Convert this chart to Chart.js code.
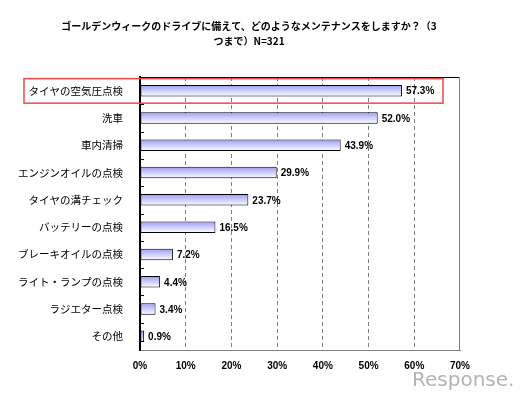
<!DOCTYPE html>
<html><head><meta charset="utf-8">
<script src="https://cdn.jsdelivr.net/npm/chart.js@4/dist/chart.umd.min.js"></script>
<style>html,body{margin:0;padding:0;background:#fff}#wrap{width:526px;height:397px;position:relative}</style>
</head><body><div id="wrap"><canvas id="c" width="526" height="397"></canvas></div>
<script>
const titleLines = ["ゴールデンウィークのドライブに備えて、どのようなメンテナンスをしますか？（3", "つまで）N=321"];
const categories = ["タイヤの空気圧点検","洗車","車内清掃","エンジンオイルの点検","タイヤの溝チェック","バッテリーの点検","ブレーキオイルの点検","ライト・ランプの点検","ラジエター点検","その他"];
const values = [57.3, 52.0, 43.9, 29.9, 23.7, 16.5, 7.2, 4.4, 3.4, 0.9];
const xTickValues = [0, 10, 20, 30, 40, 50, 60, 70];
const highlightIndex = 0;

const JP = "'Noto Sans CJK JP', 'Noto Sans', sans-serif";
const NUM = "'Liberation Sans', Arial, sans-serif";
const BAR_PCT = 0.42;

function barGradient(ctx) {
  const chart = ctx.chart;
  const ys = chart.scales && chart.scales.y;
  if (!ys || ctx.dataIndex === undefined) return '#c8c8ff';
  const band = Math.abs(ys.getPixelForValue(1) - ys.getPixelForValue(0));
  const yc = ys.getPixelForValue(ctx.dataIndex);
  const h = band * BAR_PCT / 2;
  if (!isFinite(band) || !isFinite(yc) || !(h > 0)) return '#c8c8ff';
  const g = chart.ctx.createLinearGradient(0, yc - h, 0, yc + h);
  g.addColorStop(0, '#9c9cf8');
  g.addColorStop(1, '#ffffff');
  return g;
}

const decor = {
  id: 'decor',
  afterDraw(chart) {
    const c = chart.ctx, a = chart.chartArea;
    const ys = chart.scales.y;
    c.save();
    c.fillStyle = '#000';
    c.font = "bold 10px " + JP;
    c.textAlign = 'center'; c.textBaseline = 'middle';
    c.fillText(titleLines[0], 249, 26);
    c.fillText(titleLines[1], 249, 41);
    c.strokeStyle = '#000'; c.lineWidth = 1;
    c.beginPath(); c.moveTo(a.left, a.top + 0.5); c.lineTo(a.right, a.top + 0.5); c.stroke();
    c.strokeStyle = '#808080';
    c.beginPath(); c.moveTo(a.right - 0.5, a.top); c.lineTo(a.right - 0.5, a.bottom); c.stroke();
    c.strokeStyle = '#000';
    const band = Math.abs(ys.getPixelForValue(1) - ys.getPixelForValue(0));
    for (let i = 1; i < categories.length; i++) {
      const y = Math.round(ys.getPixelForValue(i) - band / 2) + 0.5;
      c.beginPath(); c.moveTo(a.left, y); c.lineTo(a.left + 4, y); c.stroke();
    }
    const meta = chart.getDatasetMeta(0);
    c.font = "bold 10px " + NUM;
    c.textAlign = 'left'; c.textBaseline = 'middle'; c.fillStyle = '#000';
    meta.data.forEach((el, i) => {
      c.fillText(values[i].toFixed(1) + '%', el.x + 4, el.y + 1);
    });
    const hy = ys.getPixelForValue(highlightIndex);
    c.strokeStyle = '#f04848'; c.lineWidth = 1.5;
    c.strokeRect(24, hy - 12, 419, 24.5);
    c.font = "20px 'DejaVu Sans', sans-serif";
    c.fillStyle = 'rgba(160,160,160,0.8)';
    c.textAlign = 'left'; c.textBaseline = 'alphabetic';
    c.fillText('Response.', 412, 386);
    c.restore();
  }
};

new Chart(document.getElementById('c'), {
  type: 'bar',
  data: {
    labels: categories,
    datasets: [{
      data: values,
      backgroundColor: barGradient,
      borderColor: '#000',
      borderWidth: 1,
      borderSkipped: false,
      categoryPercentage: 1,
      barPercentage: BAR_PCT
    }]
  },
  options: {
    indexAxis: 'y',
    responsive: false,
    animation: false,
    devicePixelRatio: 1,
    layout: { padding: { left: 0, right: 66, top: 77, bottom: 17 } },
    plugins: { legend: { display: false }, tooltip: { enabled: false }, title: { display: false } },
    scales: {
      x: {
        min: 0, max: 70,
        afterBuildTicks: (s) => { s.ticks = xTickValues.map(v => ({ value: v })); },
        afterFit: (s) => { s.height = 30; },
        ticks: {
          callback: (v) => v + '%',
          color: '#000',
          padding: 10,
          font: { family: NUM, size: 10, weight: 'bold' },
          maxRotation: 0
        },
        grid: {
          color: (c) => (c.tick && (c.tick.value === 0 || c.tick.value === 70)) ? 'rgba(0,0,0,0)' : '#808080',
          drawTicks: false,
          lineWidth: 1
        },
        border: { display: true, color: '#808080', width: 1, dash: [4, 3] }
      },
      y: {
        afterFit: (s) => { s.width = 140; },
        ticks: {
          color: '#000',
          padding: 9,
          font: { family: JP, size: 10.5 }
        },
        grid: { display: false },
        border: { display: true, color: '#000', width: 2 }
      }
    }
  },
  plugins: [decor]
});
</script></body></html>
